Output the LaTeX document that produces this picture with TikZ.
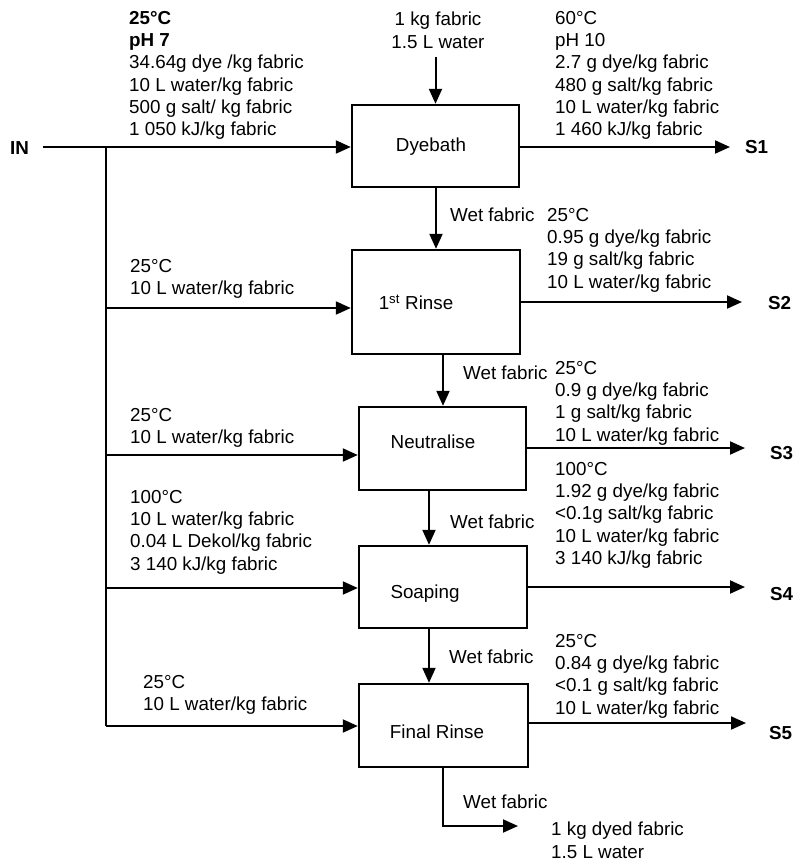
\documentclass[tikz,border=0pt]{standalone}
\usepackage{fontspec}
\setmainfont{Liberation Sans}
\usetikzlibrary{arrows.meta}
\begin{document}
\begin{tikzpicture}[x=1pt,y=-1pt,
  every node/.style={font=\fontsize{18.8}{22.3}\selectfont, inner sep=0pt},
  procbox/.style={draw, line width=2.4pt},
  arr/.style={line width=2pt, -{Triangle[length=15pt,width=13pt]}},
  bus/.style={line width=2.8pt},
  txt/.style={anchor=north west, align=left},
  lbl/.style={anchor=west},
  strm/.style={anchor=west, font=\fontsize{18.8}{22.3}\selectfont\bfseries}]
\useasboundingbox (0,0) rectangle (795,863);

% process boxes
\node[procbox, minimum width=167pt, minimum height=82pt,
  label={[xshift=-4.5pt,yshift=-1pt]center:Dyebath}] (dye) at (435.5,146) {};
\node[procbox, minimum width=168pt, minimum height=104pt,
  label={[xshift=-20pt]center:1\textsuperscript{st} Rinse}] (rinse) at (436,302) {};
\node[procbox, minimum width=167pt, minimum height=83pt,
  label={[xshift=-9.5pt,yshift=7pt]center:Neutralise}] (neut) at (442.5,448.5) {};
\node[procbox, minimum width=168pt, minimum height=82pt,
  label={[xshift=-18pt,yshift=-7pt]center:Soaping}] (soap) at (443,587) {};
\node[procbox, minimum width=169pt, minimum height=83pt,
  label={[xshift=-6.5pt,yshift=-6.5pt]center:Final Rinse}] (final) at (443.5,725.5) {};

% feed
\node[align=center, anchor=north] (feed) at (438,12) {1 kg fabric\\1.5 L water};
\draw[arr] ([yshift=-8pt]feed.south -| dye.north) -- (dye.north);

% wet fabric transfers
\draw[arr] ([xshift=0.5pt]dye.south) -- (rinse.north);
\draw[arr] ([xshift=7pt]rinse.south) -- ([xshift=0.5pt]neut.north);
\draw[arr] ([xshift=-13.5pt]neut.south) -- ([xshift=-14pt]soap.north);
\draw[arr] ([xshift=-14pt]soap.south) -- ([xshift=-14.5pt]final.north);
\coordinate (outend) at (518,826);
\draw[arr] ([xshift=-0.5pt]final.south) |- (outend);

\node[lbl] (w1) at (450,215) {Wet fabric};
\node[lbl] (w2) at (463,373) {Wet fabric};
\node[lbl] (w3) at (450,522) {Wet fabric};
\node[lbl] (w4) at (449,657) {Wet fabric};
\node[lbl] (w5) at (463,802) {Wet fabric};

% inlet and bus
\node[strm] (in) at (10,148) {IN};
\coordinate (inStart) at (43,147);
\draw[arr] (inStart) -- (inStart -| dye.west);
\coordinate (busTop) at (106,147);
\coordinate (busBot) at (106,726);
\draw[bus] (busTop) -- (busBot);
\coordinate (b2) at (106,308);
\coordinate (b3) at (106,455);
\coordinate (b4) at (106,588);
\draw[arr] (b2) -- (b2 -| rinse.west);
\draw[arr] (b3) -- (b3 -| neut.west);
\draw[arr] (b4) -- (b4 -| soap.west);
\draw[arr] (busBot) -- (busBot -| final.west);

% outlet streams
\node[strm] (s1) at (745,147) {S1};
\node[strm] (s2) at (768,303) {S2};
\node[strm] (s3) at (770,453) {S3};
\node[strm] (s4) at (770,594) {S4};
\node[strm] (s5) at (769,733) {S5};
\coordinate (e1) at (730,147);
\coordinate (e2) at (742,302);
\coordinate (e3) at (745,448);
\coordinate (e4) at (745,587);
\coordinate (e5) at (746,723);
\draw[arr] (e1 -| dye.east) -- (e1);
\draw[arr] (e2 -| rinse.east) -- (e2);
\draw[arr] (e3 -| neut.east) -- (e3);
\draw[arr] (e4 -| soap.east) -- (e4);
\draw[arr] (e5 -| final.east) -- (e5);

% stream data
\node[txt] (lb1) at (129,11) {{\bfseries 25°C}\\{\bfseries pH 7}\\34.64g dye /kg fabric\\10 L water/kg fabric\\500 g salt/ kg fabric\\1 050 kJ/kg fabric};
\node[txt] (rb1) at (555,11) {60°C\\pH 10\\2.7 g dye/kg fabric\\480 g salt/kg fabric\\10 L water/kg fabric\\1 460 kJ/kg fabric};
\node[txt] (lb2) at (130,259) {25°C\\10 L water/kg fabric};
\node[txt] (rb2) at (547,208) {25°C\\0.95 g dye/kg fabric\\19 g salt/kg fabric\\10 L water/kg fabric};
\node[txt] (lb3) at (130,408) {25°C\\10 L water/kg fabric};
\node[txt] (rb3) at (555,361) {25°C\\0.9 g dye/kg fabric\\1 g salt/kg fabric\\10 L water/kg fabric};
\node[txt] (lb4) at (130,490) {100°C\\10 L water/kg fabric\\0.04 L Dekol/kg fabric\\3 140 kJ/kg fabric};
\node[txt] (rb4) at (555,462) {100°C\\1.92 g dye/kg fabric\\<0.1g salt/kg fabric\\10 L water/kg fabric\\3 140 kJ/kg fabric};
\node[txt] (lb5) at (143,675) {25°C\\10 L water/kg fabric};
\node[txt] (rb5) at (555,634) {25°C\\0.84 g dye/kg fabric\\<0.1 g salt/kg fabric\\10 L water/kg fabric};
\node[txt] (prod) at (551,822) {1 kg dyed fabric\\1.5 L water};
\end{tikzpicture}
\end{document}
